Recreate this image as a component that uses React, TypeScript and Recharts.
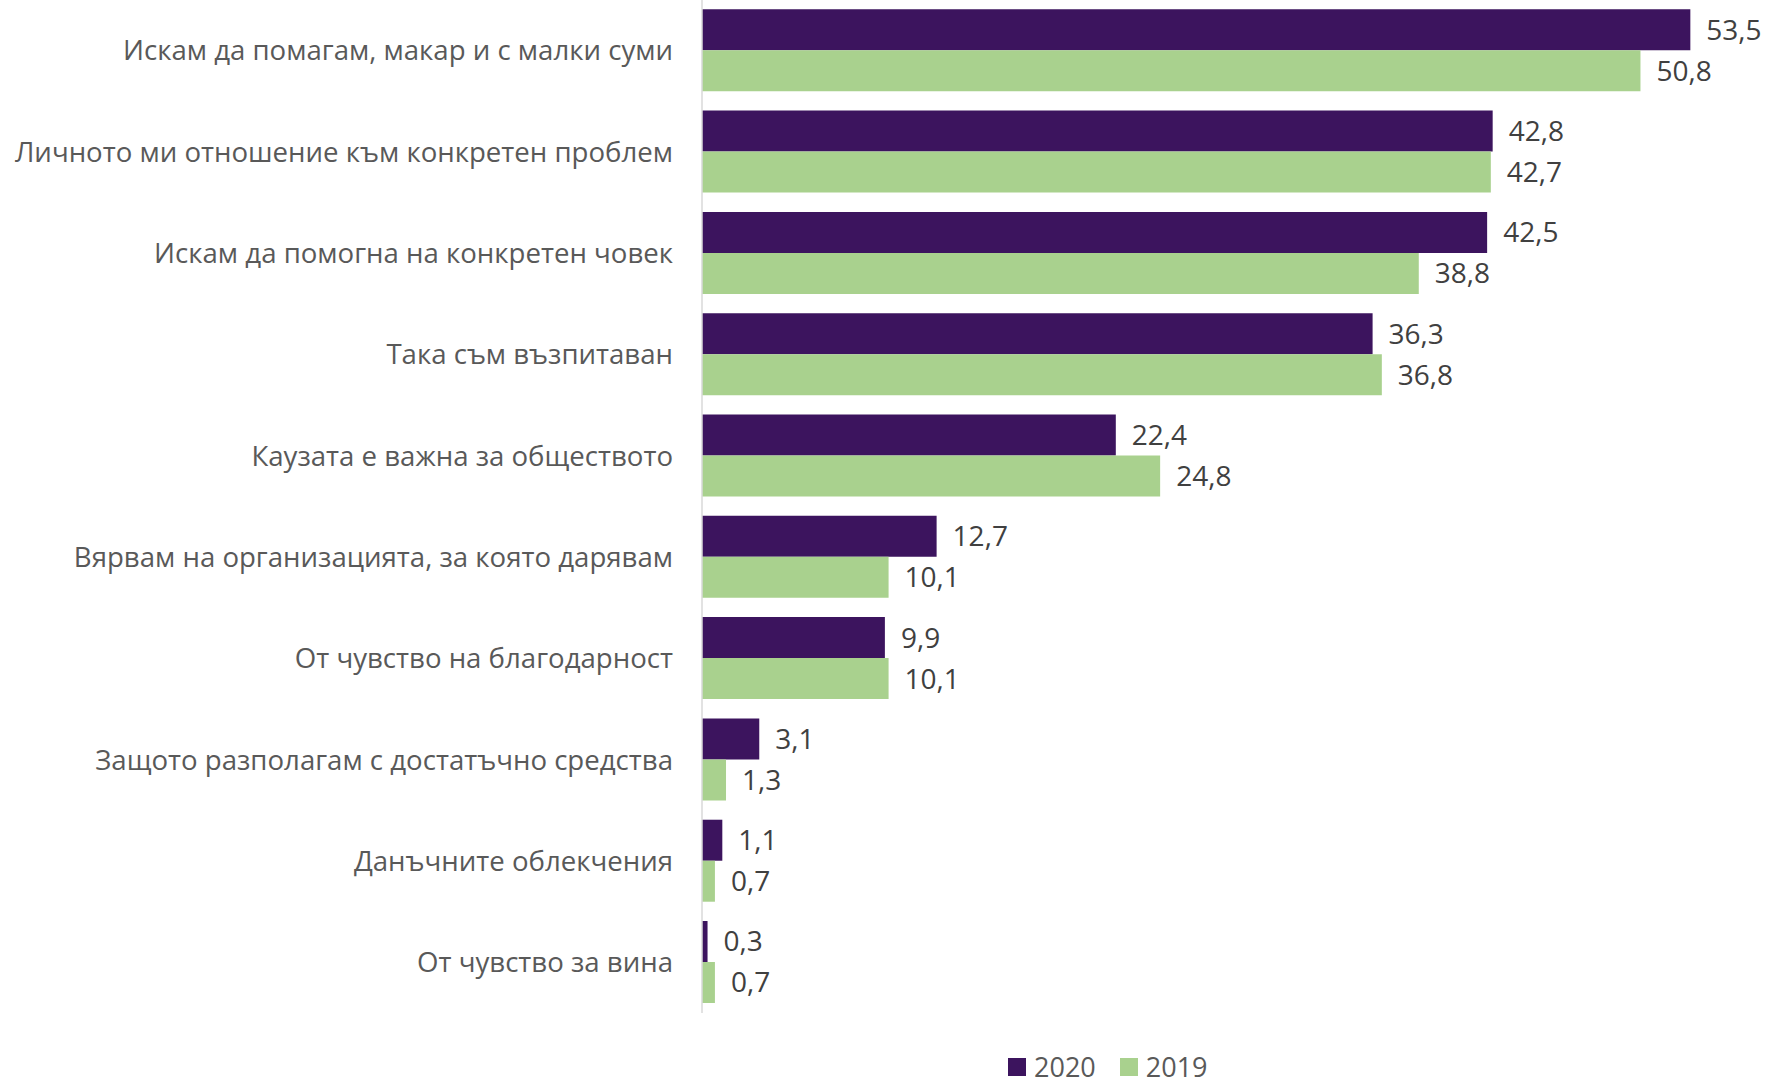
import React from "react"
import { BarChart, Bar, XAxis, YAxis, Legend, LabelList } from "recharts"

const categories = [
  "Искам да помагам, макар и с малки суми",
  "Личното ми отношение към конкретен проблем",
  "Искам да помогна на конкретен човек",
  "Така съм възпитаван",
  "Каузата е важна за обществото",
  "Вярвам на организацията, за която дарявам",
  "От чувство на благодарност",
  "Защото разполагам с достатъчно средства",
  "Данъчните облекчения",
  "От чувство за вина",
]
const values2020 = [53.5, 42.8, 42.5, 36.3, 22.4, 12.7, 9.9, 3.1, 1.1, 0.3]
const values2019 = [50.8, 42.7, 38.8, 36.8, 24.8, 10.1, 10.1, 1.3, 0.7, 0.7]
const seriesNames = ["2020", "2019"]
const colors = ["#3c145e", "#a9d18e"]

const data = categories.map((name, i) => ({
  name,
  y2020: values2020[i],
  y2019: values2019[i],
}))

const font = "'Open Sans', sans-serif"
const fmt = (v: any) => Number(v).toFixed(1).replace(".", ",")

function LegendContent(props: any) {
  const items = [...(props.payload || [])].sort(
    (a: any, b: any) => seriesNames.indexOf(a.value) - seriesNames.indexOf(b.value)
  )
  return (
    <div style={{ paddingTop: 39, paddingLeft: 1008, display: "flex", fontFamily: font, fontSize: 27, color: "#595959" }}>
      {items.map((p: any, i: number) => (
        <div key={i} style={{ display: "flex", alignItems: "center", marginRight: 24, lineHeight: "30px" }}>
          <span style={{ width: 18, height: 18, background: p.color, display: "inline-block", marginRight: 8 }} />
          <span>{p.value}</span>
        </div>
      ))}
    </div>
  )
}

export default function App() {
  return (
    <div style={{ width: 1770, height: 1082, background: "#fff" }}>
      <style>{`body{margin:0}`}</style>
      <BarChart
        width={1770}
        height={1082}
        data={data}
        layout="vertical"
        margin={{ top: 0, right: 15, left: 0, bottom: 0 }}
        barCategoryGap="9.2%"
        barGap={0}
      >
        <XAxis type="number" domain={[0, 57]} hide />
        <YAxis
          type="category"
          dataKey="name"
          width={702}
          tickLine={false}
          tickSize={0}
          tickMargin={29}
          axisLine={{ stroke: "#d9d9d9", strokeWidth: 1.5 }}
          tick={{ fill: "#595959", fontSize: 27.6, fontFamily: font }}
          interval={0}
        />
        <Legend verticalAlign="bottom" height={69} content={<LegendContent />} />
        <Bar dataKey="y2020" name={seriesNames[0]} fill={colors[0]} isAnimationActive={false}>
          <LabelList dataKey="y2020" position="right" offset={16} formatter={fmt}
            style={{ fill: "#404040", fontSize: 28, fontFamily: font }} />
        </Bar>
        <Bar dataKey="y2019" name={seriesNames[1]} fill={colors[1]} isAnimationActive={false}>
          <LabelList dataKey="y2019" position="right" offset={16} formatter={fmt}
            style={{ fill: "#404040", fontSize: 28, fontFamily: font }} />
        </Bar>
      </BarChart>
    </div>
  )
}
